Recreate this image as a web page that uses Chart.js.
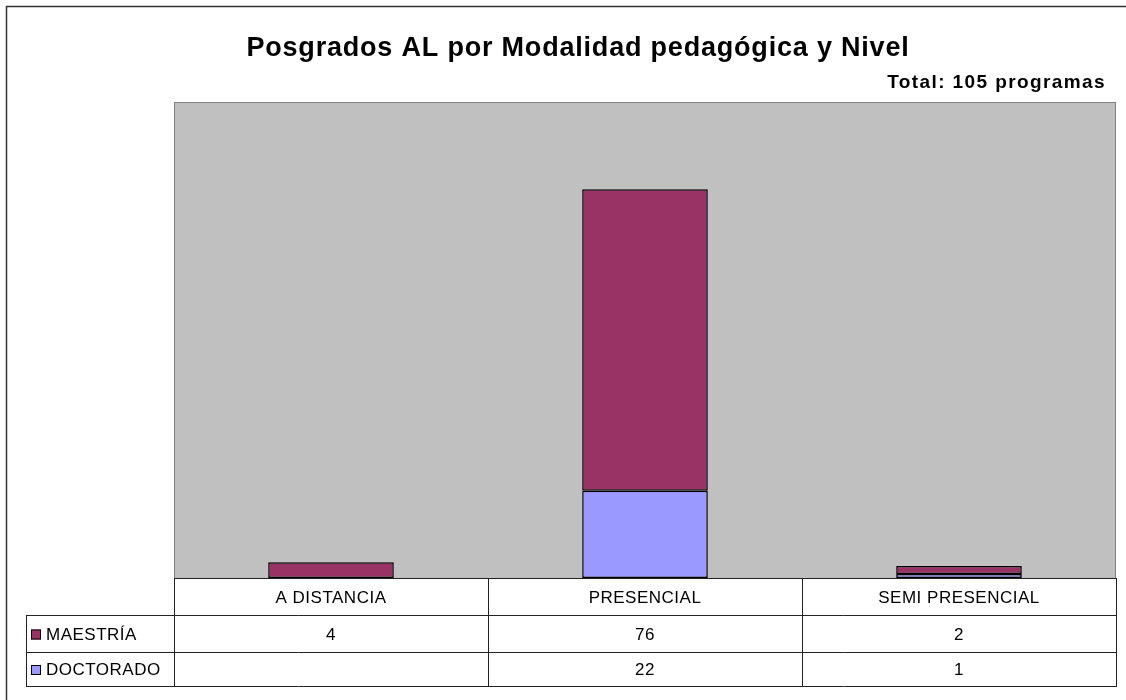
<!DOCTYPE html>
<html>
<head>
<meta charset="utf-8">
<script src="https://cdn.jsdelivr.net/npm/chart.js@4"></script>
<style>
  body { margin: 0; background: #fff; }
</style>
</head>
<body>
<canvas id="chart" width="1126" height="700"></canvas>
<script>
const categories = ['A DISTANCIA', 'PRESENCIAL', 'SEMI PRESENCIAL'];
const maestria = [4, 76, 2];
const doctorado = [null, 22, 1];
const seriesNames = ['MAESTRÍA', 'DOCTORADO'];
const titleText = 'Posgrados AL por Modalidad pedagógica y Nivel';
const totalText = 'Total: 105 programas';
const yMax = 120;

const colMaestria = '#993366';
const colDoctorado = '#9999ff';
const fontName = '"Liberation Sans", Arial, sans-serif';

// rows of the data table under the plot
const tableRows = [
  { name: seriesNames[0], values: maestria, color: colMaestria },
  { name: seriesNames[1], values: doctorado, color: colDoctorado }
];

const excelFrame = {
  id: 'excelFrame',
  beforeDraw(chart) {
    const { ctx, chartArea: a } = chart;
    ctx.save();
    // plot area
    ctx.fillStyle = '#c0c0c0';
    ctx.fillRect(a.left, a.top, a.right - a.left, a.bottom - a.top);
    ctx.strokeStyle = '#808080';
    ctx.lineWidth = 1;
    ctx.strokeRect(a.left + 0.5, a.top + 0.5, a.right - a.left - 1, a.bottom - a.top);

    // outer border (only top/left are in the picture)
    ctx.strokeStyle = '#333';
    ctx.lineWidth = 1.5;
    ctx.beginPath();
    ctx.moveTo(6.5, 700);
    ctx.lineTo(6.5, 6.5);
    ctx.lineTo(1126, 6.5);
    ctx.stroke();

    // titles
    ctx.fillStyle = '#000';
    ctx.textBaseline = 'alphabetic';
    ctx.font = 'bold 27px ' + fontName;
    ctx.letterSpacing = '0.8px';
    ctx.textAlign = 'center';
    ctx.fillText(titleText, 578, 56);
    ctx.font = 'bold 19px ' + fontName;
    ctx.letterSpacing = '1.4px';
    ctx.textAlign = 'right';
    ctx.fillText(totalText, 1106, 88);
    ctx.restore();
  },
  afterDraw(chart) {
    const { ctx, chartArea: a, scales } = chart;
    const x = scales.x;
    const colW = (a.right - a.left) / categories.length;
    const rowTops = [a.bottom, a.bottom + 37, a.bottom + 74, a.bottom + 108];
    const legLeft = 26;

    ctx.save();
    ctx.lineWidth = 1;
    ctx.strokeStyle = '#222';
    ctx.beginPath();
    // horizontal lines
    ctx.moveTo(a.left, rowTops[0] + 0.5);
    ctx.lineTo(a.right, rowTops[0] + 0.5);
    for (let r = 1; r < rowTops.length; r++) {
      ctx.moveTo(legLeft, rowTops[r] + 0.5);
      ctx.lineTo(a.right, rowTops[r] + 0.5);
    }
    // vertical lines
    for (let c = 0; c <= categories.length; c++) {
      const px = Math.round(a.left + c * colW) + 0.5;
      ctx.moveTo(px, rowTops[0]);
      ctx.lineTo(px, rowTops[3] + 1);
    }
    ctx.moveTo(legLeft + 0.5, rowTops[1]);
    ctx.lineTo(legLeft + 0.5, rowTops[3] + 1);
    ctx.stroke();

    ctx.fillStyle = '#000';
    ctx.font = '17px ' + fontName;
    ctx.letterSpacing = '0.5px';
    ctx.textAlign = 'center';
    ctx.textBaseline = 'alphabetic';
    categories.forEach((cat, i) => {
      ctx.fillText(cat, x.getPixelForValue(i), rowTops[0] + 25);
    });

    tableRows.forEach((row, r) => {
      const top = rowTops[r + 1];
      const bottom = rowTops[r + 2];
      const base = (top + bottom) / 2 + 6;
      row.values.forEach((v, i) => {
        if (v === null) return;
        ctx.textAlign = 'center';
        ctx.fillText(String(v), x.getPixelForValue(i), base);
      });
      // legend key
      const cy = (top + bottom) / 2;
      ctx.fillStyle = row.color;
      ctx.fillRect(31, cy - 4, 10, 10);
      ctx.strokeStyle = '#000';
      ctx.strokeRect(31.5, cy - 3.5, 9, 9);
      ctx.fillStyle = '#000';
      ctx.textAlign = 'left';
      ctx.fillText(row.name, 46, base);
    });
    ctx.restore();
  }
};

new Chart(document.getElementById('chart').getContext('2d'), {
  type: 'bar',
  data: {
    labels: categories,
    datasets: [
      {
        label: seriesNames[1],
        data: doctorado,
        backgroundColor: colDoctorado,
        borderColor: '#000',
        borderWidth: 1.5,
        borderSkipped: false
      },
      {
        label: seriesNames[0],
        data: maestria,
        backgroundColor: colMaestria,
        borderColor: '#000',
        borderWidth: 1.5,
        borderSkipped: false
      }
    ]
  },
  options: {
    responsive: false,
    animation: false,
    layout: { padding: { left: 174, right: 10, top: 102, bottom: 122 } },
    datasets: { bar: { barPercentage: 0.4, categoryPercentage: 1 } },
    plugins: {
      legend: { display: false },
      title: { display: false },
      tooltip: { enabled: false }
    },
    scales: {
      x: { stacked: true, display: false },
      y: { stacked: true, display: false, min: 0, max: yMax }
    }
  },
  plugins: [excelFrame]
});
</script>
</body>
</html>
